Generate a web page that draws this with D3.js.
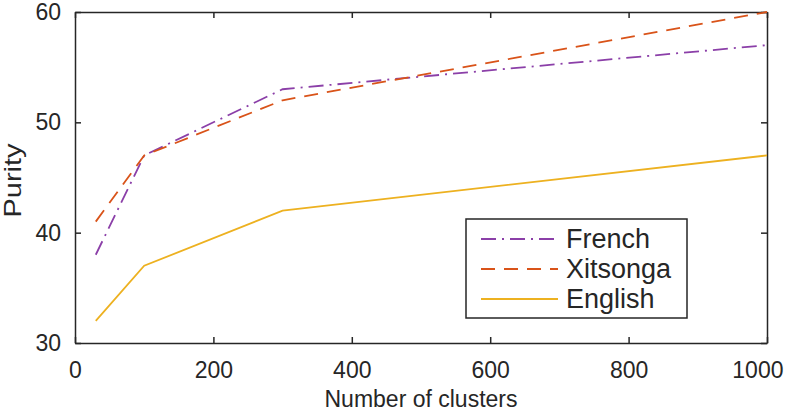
<!DOCTYPE html>
<html>
<head>
<meta charset="utf-8">
<script src="https://cdn.jsdelivr.net/npm/d3@7"></script>
<style>
  body { margin: 0; background: #fff; }
  text { font-family: "Liberation Sans", Arial, Helvetica, sans-serif; fill: #262626; }
</style>
</head>
<body>
<div id="container"></div>
<script>
// data
var clusters = [30, 100, 300, 1000]
var french = [38, 47, 53, 57]
var xitsonga = [41, 47, 52, 60]
var english = [32, 37, 42, 47]
var xTicks = [0, 200, 400, 600, 800, 1000]
var yTicks = [30, 40, 50, 60]
var names = ["French", "Xitsonga", "English"]

var width = 785
var height = 411

// plot box
var boxLeft = 75, boxRight = 767, boxTop = 12, boxBottom = 343

var svg = d3.select("#container")
  .append("svg")
  .attr("width", width)
  .attr("height", height)

var x = d3.scaleLinear().domain([0, 1000]).range([boxLeft, boxRight])
var y = d3.scaleLinear().domain([30, 60]).range([boxBottom, boxTop])

// series styles
var series = [
  { name: names[0], values: french, color: "#8B3FA8", dash: "15,6,2,6" },
  { name: names[1], values: xitsonga, color: "#D95319", dash: "14,9" },
  { name: names[2], values: english, color: "#EDB120", dash: null }
]

// axes, ticks pointing inwards
var xAxis = svg.append("g")
  .attr("transform", "translate(0," + boxBottom + ")")
  .call(d3.axisBottom(x).tickValues(xTicks).tickFormat(d3.format("d")).tickSizeInner(-6).tickSizeOuter(0).tickPadding(19))
svg.append("g")
  .attr("transform", "translate(0," + boxTop + ")")
  .call(d3.axisTop(x).tickValues(xTicks).tickSizeInner(-6).tickSizeOuter(0).tickFormat(""))
svg.append("g")
  .attr("transform", "translate(" + boxLeft + ",0)")
  .call(d3.axisLeft(y).tickValues(yTicks).tickSizeInner(-6).tickSizeOuter(0).tickPadding(14))
svg.append("g")
  .attr("transform", "translate(" + boxRight + ",0)")
  .call(d3.axisRight(y).tickValues(yTicks).tickSizeInner(-6).tickSizeOuter(0).tickFormat(""))

svg.selectAll(".domain").attr("stroke", "#262626").attr("stroke-width", 1.5)
svg.selectAll(".tick line").attr("stroke", "#262626").attr("stroke-width", 1.5)
svg.selectAll(".tick text")
  .style("font-size", "23px")
  .attr("fill", "#262626")
  .style("font-family", "'Liberation Sans', Arial, sans-serif")

// last label sits inside the page edge
xAxis.selectAll(".tick text")
  .filter(function(d) { return d == 1000 })
  .attr("text-anchor", "end")
  .attr("x", 16)

// axis titles
svg.append("text")
  .attr("x", (boxLeft + boxRight) / 2)
  .attr("y", 407)
  .attr("text-anchor", "middle")
  .style("font-size", "23px")
  .text("Number of clusters")

svg.append("text")
  .attr("transform", "translate(21," + ((boxTop + boxBottom) / 2 + 3) + ") rotate(-90)")
  .attr("text-anchor", "middle")
  .attr("textLength", 74)
  .attr("lengthAdjust", "spacingAndGlyphs")
  .style("font-size", "24px")
  .text("Purity")

// lines
var line = d3.line()
  .x(function(d, i) { return x(clusters[i]) })
  .y(function(d) { return y(d) })

svg.selectAll("path.series")
  .data(series)
  .enter()
  .append("path")
  .attr("class", "series")
  .attr("d", function(d) { return line(d.values) })
  .attr("fill", "none")
  .attr("stroke", function(d) { return d.color })
  .attr("stroke-width", 1.8)
  .attr("stroke-dasharray", function(d) { return d.dash })

// legend
var legend = svg.append("g").attr("class", "legend")
legend.append("rect")
  .attr("x", 466).attr("y", 219)
  .attr("width", 221).attr("height", 99)
  .attr("fill", "#fff")
  .attr("stroke", "#262626")
  .attr("stroke-width", 1.5)

var rows = legend.selectAll("g.row")
  .data(series)
  .enter()
  .append("g")
  .attr("class", "row")
  .attr("transform", function(d, i) { return "translate(0," + (239 + i * 30) + ")" })

rows.append("line")
  .attr("x1", 481).attr("x2", 558)
  .attr("stroke", function(d) { return d.color })
  .attr("stroke-width", 1.8)
  .attr("stroke-dasharray", function(d) { return d.dash })

rows.append("text")
  .attr("x", 566)
  .attr("dy", "0.35em")
  .style("font-size", "27px")
  .text(function(d) { return d.name })
</script>
</body>
</html>
